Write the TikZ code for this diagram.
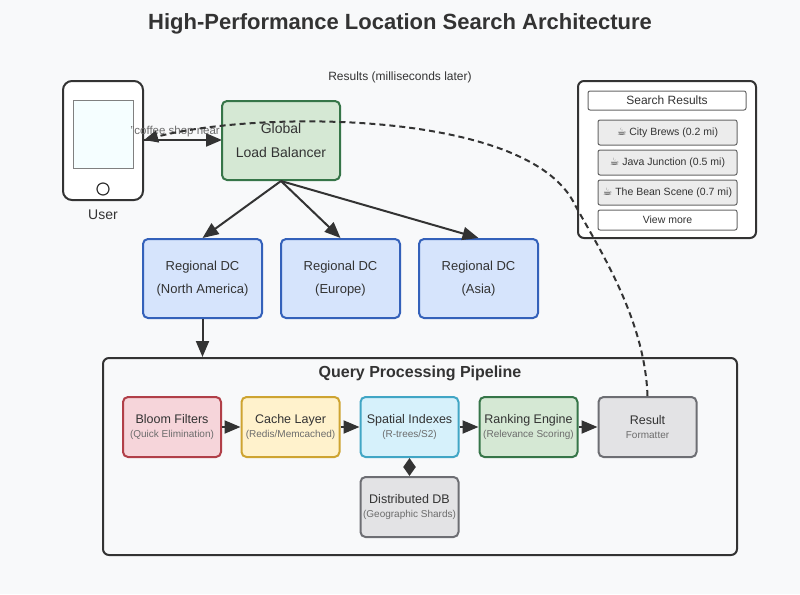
\documentclass[tikz,border=0pt]{standalone}
\usepackage{fontspec}
\setmainfont{Liberation Sans}
\newfontfamily\emojifont{DejaVu Sans}
\usetikzlibrary{arrows.meta,positioning}
\definecolor{bgc}{HTML}{F8F9FA}
\definecolor{ink}{HTML}{333333}
\newcommand{\subtxt}[1]{{\fontsize{10}{12}\selectfont\color{gray!85!black}#1}}
\tikzset{
  box/.style={draw=#1!85!black, line width=2pt, rounded corners=5pt, align=center, inner sep=0pt, text=ink},
  stage/.style={minimum width=98pt, minimum height=60pt, font=\fontsize{12.5}{17}\selectfont},
  dc/.style={box=dcs, fill=dcf, minimum width=119pt, minimum height=79pt, font=\fontsize{13}{23}\selectfont},
  item/.style={draw=gray!80!black, line width=1pt, fill=gray!15, rounded corners=2pt, minimum width=139pt, minimum height=25pt, font=\fontsize{10.5}{12}\selectfont, text=ink},
  flow/.style={-{Triangle[length=16pt,width=13pt]}, line width=2pt, draw=ink},
  sub/.style={font=\fontsize{10}{12}\selectfont, text=gray!85!black}
}
\definecolor{dcf}{HTML}{D6E4FC}\definecolor{dcs}{HTML}{3D72DB}
\definecolor{lbf}{HTML}{D5E8D4}\definecolor{lbs}{HTML}{3F8A55}
\definecolor{rdf}{HTML}{F6D5DA}\definecolor{rds}{HTML}{D04A55}
\definecolor{ylf}{HTML}{FFF2CC}\definecolor{yls}{HTML}{F2C13A}
\definecolor{cyf}{HTML}{D6F1FB}\definecolor{cys}{HTML}{4DC3E8}
\definecolor{gyf}{HTML}{E3E3E5}\definecolor{gys}{HTML}{808287}
\begin{document}
\begin{tikzpicture}[x=1pt,y=-1pt]
\useasboundingbox[fill=bgc] (0,0) rectangle (800,594);
\node[font=\bfseries\fontsize{22}{26}\selectfont, text=ink] (title) at (400,24) {High-Performance Location Search Architecture};
% user device
\node[draw=ink, line width=2pt, fill=white, rounded corners=9pt, minimum width=80pt, minimum height=119pt] (phone) at (103,140.5) {};
\node[draw=gray, line width=1pt, fill=blue!6!cyan!4, minimum width=60pt, minimum height=68pt, inner sep=0pt] (screen) at (103,134) {};
\node[draw=ink, circle, line width=1.2pt, minimum size=12pt, inner sep=0pt] (home) at (103,189) {};
\node[font=\fontsize{14}{16}\selectfont, text=ink] (user) at (103,215) {User};
% load balancer
\draw[flow] (phone.east |- 0,140) -- node[pos=0.4, above=-1pt, sub, font=\fontsize{11.5}{13}\selectfont] (query) {"coffee shop near} (222,140);
\node[box=lbs, fill=lbf, minimum width=118pt, minimum height=79pt, font=\fontsize{14}{24}\selectfont] (lb) at (281,140.5) {Global\\Load Balancer};
% regional data centres
\node[dc] (na) at (202.5,278.5) {Regional DC\\(North America)};
\node[dc] (eu) at (340.5,278.5) {Regional DC\\(Europe)};
\node[dc] (as) at (478.5,278.5) {Regional DC\\(Asia)};
\foreach \dest in {na,eu,as} \draw[flow] (lb.south) -- (\dest.north);
% pipeline
\node[draw=ink, line width=2pt, rounded corners=6pt, minimum width=634pt, minimum height=197pt] (pipe) at (420,456.5) {};
\node[font=\bfseries\fontsize{16}{19}\selectfont, text=ink] (pipetitle) at (420,373) {Query Processing Pipeline};
\draw[flow] (na.south) -- (na.south |- pipe.north);
\node[box=rds, fill=rdf, stage] (bloom) at (172,427) {Bloom Filters\\[-3pt]\subtxt{(Quick Elimination)}};
\node[box=yls, fill=ylf, stage] (cache) at (290.5,427) {Cache Layer\\[-3pt]\subtxt{(Redis/Memcached)}};
\node[box=cys, fill=cyf, stage] (spatial) at (409.5,427) {Spatial Indexes\\[-3pt]\subtxt{(R-trees/S2)}};
\node[box=lbs, fill=lbf, stage] (rank) at (528.5,427) {Ranking Engine\\[-3pt]\subtxt{(Relevance Scoring)}};
\node[box=gys, fill=gyf, stage] (result) at (647.5,427) {Result\\[-3pt]\subtxt{Formatter}};
\node[box=gys, fill=gyf, stage] (db) at (409.5,507) {Distributed DB\\[-3pt]\subtxt{(Geographic Shards)}};
\draw[flow] (bloom) -- (cache);
\draw[flow] (cache) -- (spatial);
\draw[flow] (spatial) -- (rank);
\draw[flow] (rank) -- (result);
\draw[{Triangle[length=9pt,width=12pt]}-{Triangle[length=9pt,width=12pt]}, line width=2pt, draw=ink] (spatial) -- (db);
% results panel
\node[draw=ink, line width=2pt, fill=white, rounded corners=6pt, minimum width=178pt, minimum height=157pt] (panel) at (667,159.5) {};
\node[draw=gray!80!black, line width=1pt, fill=white, rounded corners=2pt, minimum width=158pt, minimum height=19pt, font=\fontsize{12}{14}\selectfont, text=ink] (srtitle) at (667,100.5) {Search Results};
\node[item] (r1) at (667.5,132.5) {{\emojifont ☕}\ City Brews (0.2 mi)};
\node[item] (r2) at (667.5,162.5) {{\emojifont ☕}\ Java Junction (0.5 mi)};
\node[item] (r3) at (667.5,192.5) {{\emojifont ☕}\ The Bean Scene (0.7 mi)};
\node[item, fill=white, minimum height=20pt] (more) at (667.5,220) {View more};
% response path
\node[font=\fontsize{12}{14}\selectfont, text=ink] (resp) at (400,77) {Results (milliseconds later)};
\coordinate (bend) at (575,205);
\draw[line width=2pt, draw=ink, dash pattern=on 6pt off 4pt, -{Triangle[length=14pt,width=12pt]}] (result.north) .. controls (645,320) and (600,250) .. (bend) .. controls (530,110) and (260,110) .. (phone.east |- 0,140);
\end{tikzpicture}
\end{document}
